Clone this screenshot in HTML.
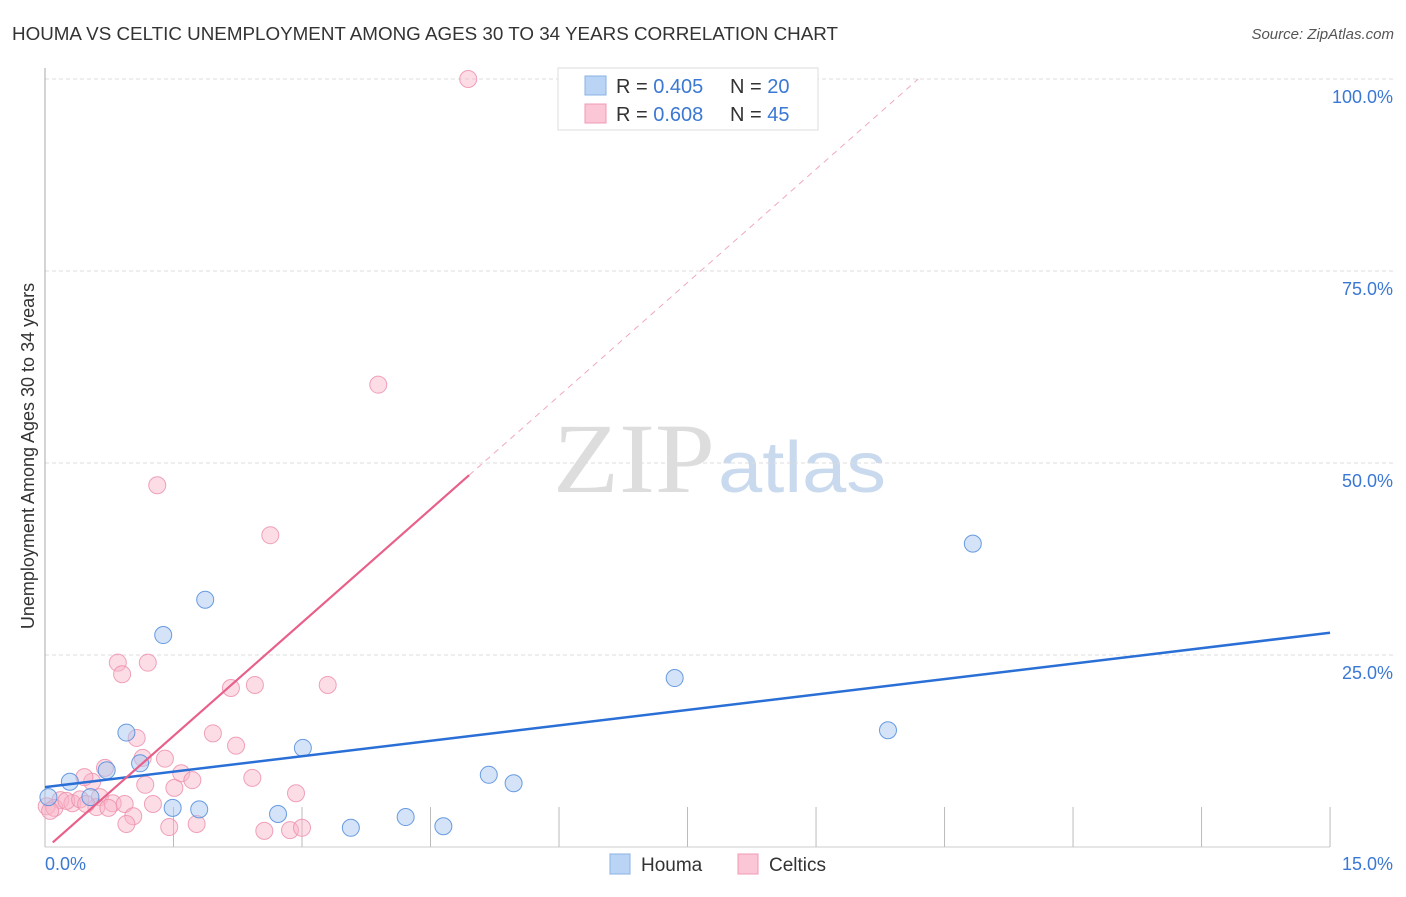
<!DOCTYPE html>
<html><head><meta charset="utf-8"><style>
body{margin:0;background:#fff;font-family:"Liberation Sans",sans-serif;}
</style></head><body>
<svg width="1406" height="892" viewBox="0 0 1406 892" font-family="Liberation Sans, sans-serif">
<text x="12" y="40" font-size="18.5" fill="#333" textLength="826" lengthAdjust="spacingAndGlyphs">HOUMA VS CELTIC UNEMPLOYMENT AMONG AGES 30 TO 34 YEARS CORRELATION CHART</text>
<text x="1394" y="39" font-size="15" fill="#555" font-style="italic" text-anchor="end">Source: ZipAtlas.com</text>
<g>
<text x="553" y="492" font-size="100" fill="#ddd" style="font-family:'Liberation Serif',serif" textLength="162" lengthAdjust="spacingAndGlyphs">ZIP</text>
<text x="718" y="492" font-size="72" fill="#c9d9ee" textLength="168" lengthAdjust="spacingAndGlyphs">atlas</text>
</g>
<g id="grid"></g>
<g id="axes"></g>
<text x="34" y="456" font-size="18" fill="#333" text-anchor="middle" transform="rotate(-90 34 456)">Unemployment Among Ages 30 to 34 years</text>
<g id="marks"></g>
<g>
<rect x="558" y="68" width="260" height="62" fill="#fff" stroke="#ddd"/>
<rect x="585" y="76" width="21" height="19" fill="#b9d4f5" stroke="#8ab2e6"/>
<rect x="585" y="104" width="21" height="19" fill="#fbc7d6" stroke="#f09ab4"/>
<text x="616" y="93" font-size="20" fill="#333">R = <tspan fill="#3a78d4">0.405</tspan><tspan x="730">N = </tspan><tspan fill="#3a78d4">20</tspan></text>
<text x="616" y="121" font-size="20" fill="#333">R = <tspan fill="#3a78d4">0.608</tspan><tspan x="730">N = </tspan><tspan fill="#3a78d4">45</tspan></text>
</g>
<g>
<rect x="610" y="854" width="20" height="20" fill="#b9d4f5" stroke="#8ab2e6"/>
<text x="641" y="871" font-size="19" fill="#333">Houma</text>
<rect x="738" y="854" width="20" height="20" fill="#fbc7d6" stroke="#f09ab4"/>
<text x="769" y="871" font-size="19" fill="#333">Celtics</text>
</g>
</svg>
<script>
const houmaX=[0.04,0.29,0.53,0.72,0.95,1.11,1.38,1.49,1.80,1.87,2.72,3.01,3.57,4.21,4.65,5.18,5.47,7.35,9.84,10.83];
const houmaY=[6.5,8.5,6.5,10.0,14.9,10.9,27.6,5.1,4.9,32.2,4.3,12.9,2.5,3.9,2.7,9.4,8.3,22.0,15.2,39.5];
const celticsX=[4.94,3.89,1.31,2.63,0.85,1.20,0.90,2.17,2.45,3.30,1.96,1.07,2.23,1.14,1.40,0.70,1.59,0.55,0.46,2.42,1.72,1.17,1.51,2.93,0.64,0.79,0.93,1.26,0.18,0.32,0.02,0.11,0.25,0.41,0.60,0.74,1.03,0.95,1.45,1.77,2.56,2.86,3.00,0.06,0.48];
const celticsY=[100,60.2,47.1,40.6,24.0,24.0,22.5,20.7,21.1,21.1,14.8,14.2,13.2,11.6,11.5,10.3,9.6,8.5,9.1,9.0,8.7,8.1,7.7,7.0,6.5,5.7,5.6,5.6,6.1,5.7,5.3,5.1,6.0,6.2,5.2,5.1,4.0,3.0,2.6,3.0,2.1,2.2,2.5,4.7,5.6];
const yTicks=[25,50,75,100];
const yTickLabels=["25.0%","50.0%","75.0%","100.0%"];
const xTicks=[0,1.5,3,4.5,6,7.5,9,10.5,12,13.5,15];
const houmaTrend=[7.8,1.34];   // intercept, slope
const celticsTrend=[-0.3,9.84];
const celticsSolidEnd=4.95;

const X=v=>45+v*85.67, Y=v=>847-v*7.68;
const NS="http://www.w3.org/2000/svg";
function mk(t,a,p){const e=document.createElementNS(NS,t);for(const k in a)e.setAttribute(k,a[k]);p.appendChild(e);return e;}
const grid=document.getElementById('grid'),axes=document.getElementById('axes'),marks=document.getElementById('marks');
yTicks.forEach((t,i)=>{
 const l=mk('line',{x1:45,x2:1395,y1:Y(t),y2:Y(t),stroke:'#ddd','stroke-dasharray':'4 3'},grid);
 
 
 const tx=mk('text',{x:1393,y:Y(t)+24,'font-size':18,fill:'#3a78d4','text-anchor':'end'},grid);
 tx.textContent=yTickLabels[i];
 
 
});
const ya=mk('line',{x1:45,x2:45,y1:68,y2:847,stroke:'#aaa'},axes);


const xa=mk('line',{x1:45,x2:1330,y1:847,y2:847,stroke:'#ccc'},axes);


xTicks.forEach(t=>{
 const l=mk('line',{x1:X(t),x2:X(t),y1:807,y2:847,stroke:'#bbb'},axes);
 
 
});
const xl0=mk('text',{x:45,y:870,'font-size':18,fill:'#3a78d4'},axes);xl0.textContent='0.0%';


const xl1=mk('text',{x:1393,y:870,'font-size':18,fill:'#3a78d4','text-anchor':'end'},axes);xl1.textContent='15.0%';



celticsX.forEach((x,i)=>{
 const c=mk('circle',{cx:X(x),cy:Y(celticsY[i]),r:8.5,fill:'rgba(248,180,200,0.45)',stroke:'rgba(236,140,170,0.8)','stroke-width':1},marks);
 
 
});
houmaX.forEach((x,i)=>{
 const c=mk('circle',{cx:X(x),cy:Y(houmaY[i]),r:8.5,fill:'rgba(170,200,240,0.5)',stroke:'rgba(80,140,220,0.85)','stroke-width':1},marks);
 
 
});
const hl=mk('line',{x1:X(0),y1:Y(houmaTrend[0]),x2:X(15),y2:Y(houmaTrend[0]+houmaTrend[1]*15),stroke:'#2a6fd6','stroke-width':2.5},marks);


const x0=(0-celticsTrend[0])/celticsTrend[1], xe=(100-celticsTrend[0])/celticsTrend[1];
const cl=mk('line',{x1:X(x0+0.06),y1:Y(celticsTrend[0]+celticsTrend[1]*(x0+0.06)),x2:X(celticsSolidEnd),y2:Y(celticsTrend[0]+celticsTrend[1]*celticsSolidEnd),stroke:'#e8608a','stroke-width':2.2},marks);


const cd=mk('line',{x1:X(celticsSolidEnd),y1:Y(celticsTrend[0]+celticsTrend[1]*celticsSolidEnd),x2:X(xe),y2:Y(100),stroke:'#f0a8bd','stroke-width':1,'stroke-dasharray':'6 5'},marks);


</script>
</body></html>
